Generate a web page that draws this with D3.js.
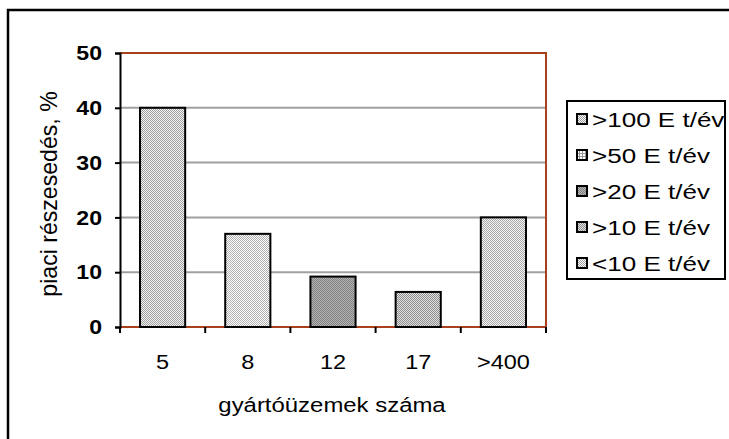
<!DOCTYPE html>
<html>
<head>
<meta charset="utf-8">
<script src="https://cdn.jsdelivr.net/npm/d3@7"></script>
<style>
  html, body { margin: 0; padding: 0; background: #fff; overflow: hidden; }
  svg { display: block; }
  text { font-family: "Liberation Sans", Arial, sans-serif; }
</style>
</head>
<body>
<div id="chart"></div>
<script>
// data
const categories = ["5", "8", "12", "17", ">400"];
const shares = [40, 17, 9.2, 6.4, 20];
const legendLabels = [">100 E t/év", ">50 E t/év", ">20 E t/év", ">10 E t/év", "<10 E t/év"];
const yTicks = [0, 10, 20, 30, 40, 50];

const W = 729, H = 439;
const svg = d3.select("#chart").append("svg")
  .attr("width", W)
  .attr("height", H);

// fill patterns (Excel-style dotted greys)
const defs = svg.append("defs");
const pats = [
  { id: "p0", a: "#f2f2f2", b: "#a0a0a0" },
  { id: "p1", a: "#ffffff", b: "#b0b0b0" },
  { id: "p2", a: "#b4b4b4", b: "#808080" },
  { id: "p3", a: "#e0e0e0", b: "#8e8e8e" },
  { id: "p4", a: "#f4f4f4", b: "#a8a8a8" }
];
pats.forEach(p => {
  const pt = defs.append("pattern")
    .attr("id", p.id)
    .attr("patternUnits", "userSpaceOnUse")
    .attr("width", 2).attr("height", 2);
  pt.append("rect").attr("width", 2).attr("height", 2).attr("fill", p.a);
  pt.append("rect").attr("width", 1).attr("height", 1).attr("fill", p.b);
  pt.append("rect").attr("x", 1).attr("y", 1).attr("width", 1).attr("height", 1).attr("fill", p.b);
});
// legend swatch for >50 has a grid look
const grid = defs.append("pattern")
  .attr("id", "pgrid")
  .attr("patternUnits", "userSpaceOnUse")
  .attr("width", 3).attr("height", 3);
grid.append("rect").attr("width", 3).attr("height", 3).attr("fill", "#ffffff");
grid.append("rect").attr("width", 1).attr("height", 3).attr("fill", "#999");
grid.append("rect").attr("width", 3).attr("height", 1).attr("fill", "#999");

// outer frame (runs off the picture on right and bottom)
svg.append("rect")
  .attr("x", 8).attr("y", 10)
  .attr("width", 760).attr("height", 480)
  .attr("fill", "none")
  .attr("stroke", "#000")
  .attr("stroke-width", 2.5);

const LEFT = 120, RIGHT = 546, TOP = 53, BOTTOM = 327;

const x = d3.scaleBand()
  .domain(categories)
  .range([LEFT, RIGHT])
  .paddingInner(0.47)
  .paddingOuter(0.235);

const xTick = d3.scaleBand()
  .domain(categories)
  .range([LEFT, RIGHT]);

const y = d3.scaleLinear()
  .domain([0, 50])
  .range([BOTTOM, TOP]);

// gridlines
svg.selectAll(".grid")
  .data(yTicks.filter(t => t > 0 && t < 50))
  .join("line")
  .attr("x1", LEFT).attr("x2", RIGHT)
  .attr("y1", d => y(d)).attr("y2", d => y(d))
  .attr("stroke", "#a0a0a0")
  .attr("stroke-width", 2);

// plot area border (brown)
svg.append("path")
  .attr("d", `M${LEFT},${y(50)}H${RIGHT}V${y(0)}H${LEFT}`)
  .attr("fill", "none")
  .attr("stroke", "#a8401a")
  .attr("stroke-width", 2);

// bars
svg.selectAll(".bar")
  .data(shares)
  .join("rect")
  .attr("x", (d, i) => x(categories[i]))
  .attr("width", x.bandwidth())
  .attr("y", d => y(d))
  .attr("height", d => y(0) - y(d))
  .attr("fill", (d, i) => `url(#p${i})`)
  .attr("stroke", "#000")
  .attr("stroke-width", 2);

// y axis
const yAxis = svg.append("g")
  .attr("transform", `translate(${LEFT},0)`)
  .call(d3.axisLeft(y).tickValues(yTicks).tickSize(5).tickPadding(0));
yAxis.attr("font-size", null).attr("font-family", null);
yAxis.select(".domain").attr("stroke", "#000").attr("stroke-width", 2);
yAxis.selectAll(".tick line").attr("stroke", "#000").attr("stroke-width", 2);
yAxis.selectAll("text")
  .attr("x", null)
  .attr("transform", "translate(-18,0) scale(1.1,1)")
  .style("font-size", "21px")
  .style("font-weight", "bold")
  .attr("fill", "#000");

// x axis ticks at band edges
const edges = categories.map(c => xTick(c)).concat([RIGHT]);
svg.selectAll(".xtick")
  .data(edges)
  .join("line")
  .attr("x1", d => d).attr("x2", d => d)
  .attr("y1", BOTTOM).attr("y2", BOTTOM + 6)
  .attr("stroke", "#000")
  .attr("stroke-width", 2);

svg.selectAll(".xlab")
  .data(categories)
  .join("text")
  .attr("transform", d => `translate(${x(d) + x.bandwidth() / 2},369) scale(1.12,1)`)
  .attr("text-anchor", "middle")
  .style("font-size", "21px")
  .attr("fill", "#000")
  .text(d => d);

// axis titles
svg.append("text")
  .attr("transform", "translate(332,412) scale(1.14,1)")
  .attr("text-anchor", "middle")
  .style("font-size", "21px")
  .text("gyártóüzemek száma");

svg.append("text")
  .attr("transform", "translate(57,194) rotate(-90) scale(1.05,1.08)")
  .attr("text-anchor", "middle")
  .style("font-size", "22px")
  .text("piaci részesedés, %");

// legend
svg.append("rect")
  .attr("x", 567).attr("y", 101)
  .attr("width", 158).attr("height", 178)
  .attr("fill", "#fff")
  .attr("stroke", "#000")
  .attr("stroke-width", 2);

const legend = svg.selectAll("g.legend")
  .data(legendLabels)
  .enter()
  .append("g")
  .attr("class", "legend");

legend.append("rect")
  .attr("x", 577)
  .attr("y", (d, i) => 114 + i * 36)
  .attr("width", 10).attr("height", 10)
  .attr("fill", (d, i) => i === 1 ? "url(#pgrid)" : `url(#p${i})`)
  .attr("stroke", "#000")
  .attr("stroke-width", 2);

legend.append("text")
  .attr("transform", (d, i) => `translate(592,${127 + i * 36}) scale(1.24,1)`)
  .style("font-size", "21px")
  .text(d => d);
</script>
</body>
</html>
